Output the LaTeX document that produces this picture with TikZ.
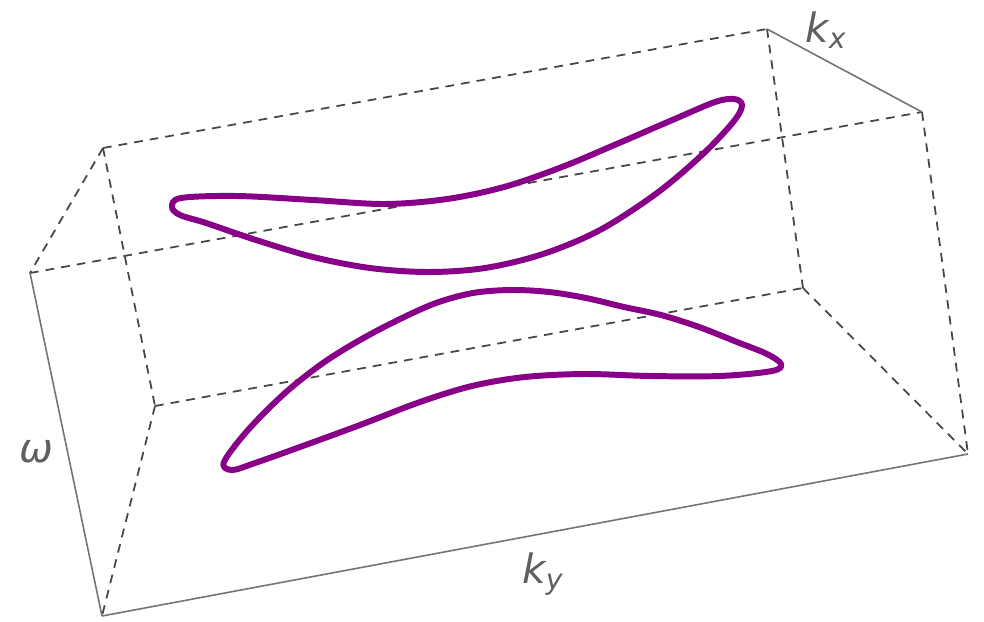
\documentclass[tikz,border=0pt]{standalone}
\usepackage{fontspec}
\usepackage{xcolor}
\usepackage{tikz}
\usetikzlibrary{positioning,calc}
\newfontfamily\axisfont{DejaVu Sans}
\definecolor{bandpurple}{RGB}{135,0,135}
\definecolor{edgegrey}{RGB}{70,70,70}
\definecolor{axisgrey}{RGB}{115,115,115}
\definecolor{labelgrey}{RGB}{95,95,95}

\begin{document}
\begin{tikzpicture}[
    x=0.02cm, y=-0.02cm,
    hidden/.style={draw=edgegrey, line width=1pt,
                   dash pattern=on 5pt off 4pt},
    axisline/.style={draw=axisgrey, line width=0.9pt},
    band/.style={draw=bandpurple, line width=3.4pt, line join=round},
    axislabel/.style={font=\axisfont\fontsize{23}{26}\selectfont\itshape,
                      text=labelgrey, inner sep=0pt},
  ]
  \useasboundingbox (0,0) rectangle (984,622);

  % Ecken der Box
  \coordinate (tbl) at (103,148);
  \coordinate (tbr) at (767,29);
  \coordinate (tfl) at (30,273);
  \coordinate (tfr) at (922,112);
  \coordinate (bbl) at (155,406);
  \coordinate (bbr) at (803,288);
  \coordinate (bfl) at (102,616);
  \coordinate (bfr) at (968,454);

  % Gestrichelte Kanten
  \draw[hidden] (tbl) -- (tbr);
  \draw[hidden] (tfl) -- (tfr);
  \draw[hidden] (tbl) -- (tfl);
  \draw[hidden] (tbl) -- (bbl);
  \draw[hidden] (tbr) -- (bbr);
  \draw[hidden] (tfr) -- (bfr);
  \draw[hidden] (bbl) -- (bbr);
  \draw[hidden] (bbr) -- (bfr);
  \draw[hidden] (bbl) -- (bfl);

  % Achsen
  \draw[axisline] (tfl) -- (bfl);
  \draw[axisline] (bfl) -- (bfr);
  \draw[axisline] (tbr) -- (tfr);

  % Obere Bande
  \draw[band] plot[smooth cycle, tension=0.55] coordinates {
    (172,207) (181,198) (237,196) (313,200) (385,204) (447,199)
    (504,187) (562,167) (619,143) (677,118) (715,102) (734,99)
    (742,105) (734,121) (703,154) (657,193) (600,230) (543,254)
    (485,268) (428,272) (370,268) (313,257) (256,240) (206,223)
    (180,215)};

  % Untere Bande
  \draw[band] plot[smooth cycle, tension=0.55] coordinates {
    (224,462) (248,430) (285,393) (323,363) (360,340) (398,320)
    (436,303) (473,293) (511,290) (549,292) (586,298) (624,307)
    (661,315) (699,327) (737,342) (767,354) (781,364) (772,371)
    (720,376) (650,376) (585,374) (525,377) (472,386) (420,402)
    (360,425) (300,447) (255,463) (232,470)};

  % Beschriftungen
  \node[axislabel] (kx) at (826,30) {k\textsubscript{x}};
  \node[axislabel] (ky) at (543,574) {k\textsubscript{y}};
  \node[axislabel] (om) at (36,452) {ω};
\end{tikzpicture}
\end{document}
